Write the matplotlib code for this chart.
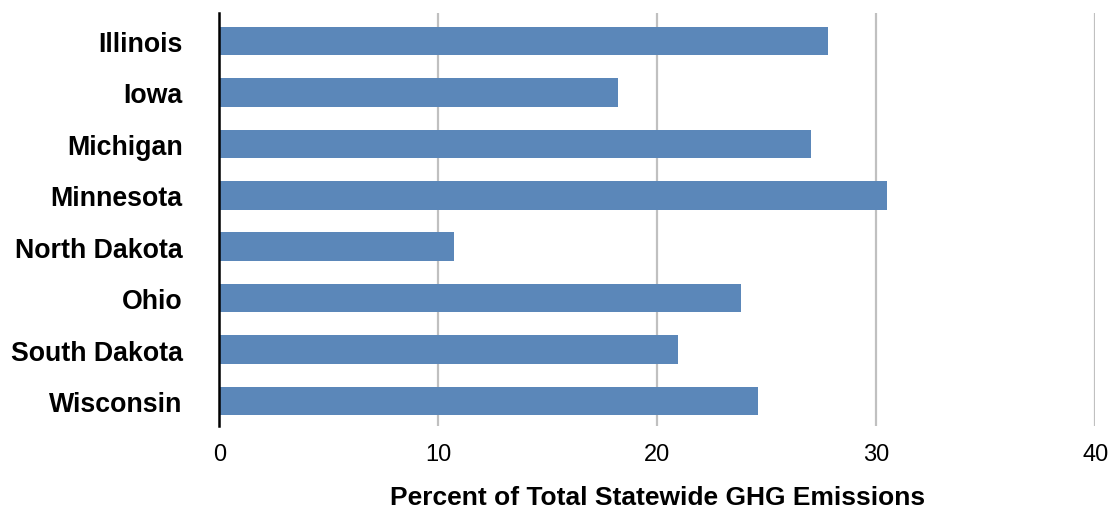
import numpy as np
import matplotlib
matplotlib.use('Agg')
import matplotlib.pyplot as plt

plt.rcParams['font.family'] = ['Liberation Sans', 'DejaVu Sans']

# Datos
estados = ['Illinois', 'Iowa', 'Michigan', 'Minnesota', 'North Dakota',
           'Ohio', 'South Dakota', 'Wisconsin']
porcentaje = [27.8, 18.2, 27.0, 30.5, 10.7, 23.8, 20.95, 24.6]
ticks_x = [0, 10, 20, 30, 40]

fig = plt.figure(figsize=(11.1, 5.1), dpi=100)
ax = fig.add_axes([0.1976, 0.1627, 0.7892, 0.8098])

y = np.arange(len(estados))
ax.barh(y, porcentaje, height=0.555, color='#5B87B9', zorder=3)

ax.set_xlim(0, 40)
ax.set_ylim(7.486, -0.545)
ax.set_xticks(ticks_x)
ax.set_yticks(y)
ax.set_yticklabels(estados, fontsize=19.3, fontweight='bold')
ax.tick_params(axis='x', length=0, pad=12, labelsize=17)
ax.tick_params(axis='y', length=0, pad=26.5)

ax.grid(axis='x', color='#C0C0C0', linewidth=1.6, zorder=0)
for s in ['top', 'right', 'bottom']:
    ax.spines[s].set_visible(False)
ax.spines['left'].set_linewidth(1.8)
ax.spines['left'].set_zorder(4)

ax.set_xlabel('Percent of Total Statewide GHG Emissions', fontsize=19,
              fontweight='bold', labelpad=14.5)

fig.savefig('out.png', dpi=100)
